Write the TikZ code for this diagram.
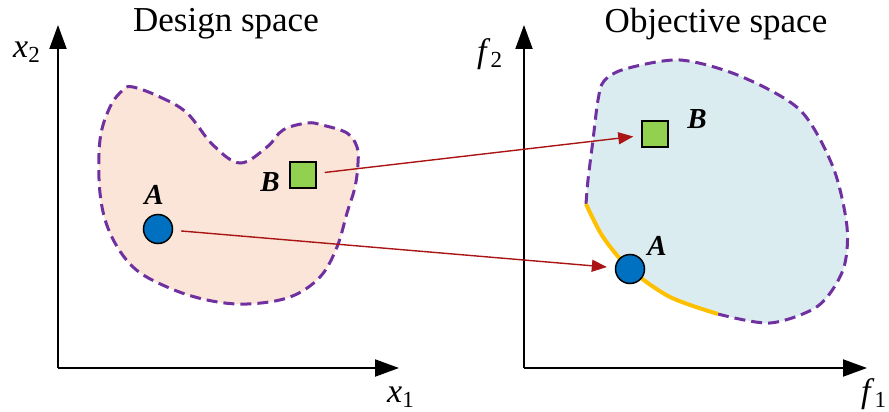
\documentclass[tikz,border=0pt]{standalone}
\usepackage{fontspec}
\setmainfont{Liberation Serif}
\usetikzlibrary{arrows.meta}
\definecolor{designfill}{RGB}{250,229,216}
\definecolor{objfill}{RGB}{218,236,240}
\definecolor{edgepurple}{RGB}{112,48,160}
\definecolor{paretoorange}{RGB}{255,192,0}
\definecolor{ptblue}{RGB}{0,112,192}
\definecolor{ptgreen}{RGB}{146,208,80}
\definecolor{mapred}{RGB}{170,20,20}
\newcommand{\axname}[2]{\textit{#1}\raisebox{-5pt}{\fontsize{23}{26}\selectfont #2}}
\tikzset{
  axisarrow/.style={line width=2pt,-{Triangle[length=24pt,width=17pt]}},
  regionedge/.style={edgepurple,line width=3pt,dash pattern=on 11pt off 6pt},
  ptA/.style={circle,draw,line width=1.5pt,fill=ptblue,minimum size=29pt,inner sep=0pt},
  ptB/.style={rectangle,draw,line width=1.5pt,fill=ptgreen,minimum size=26pt,inner sep=0pt},
  mapping/.style={mapred,line width=1.4pt,-{Triangle[length=15pt,width=12pt]},shorten <=8pt,shorten >=8pt},
  ptlabel/.style={anchor=base,inner sep=0pt,font=\fontsize{29}{33}\selectfont\bfseries\itshape},
  spacetitle/.style={anchor=base,inner sep=0pt,font=\fontsize{35}{40}\selectfont},
  axlabel/.style={anchor=base west,inner sep=0pt,font=\fontsize{34}{38}\selectfont},
}
\begin{document}
\begin{tikzpicture}[x=1pt,y=-1pt]
\useasboundingbox (0,0) rectangle (889,412);
% axes
\coordinate (dO) at (58,368); \coordinate (dX) at (399,368); \coordinate (dY) at (58,25);
\coordinate (oO) at (524,368); \coordinate (oX) at (867,368); \coordinate (oY) at (524,25);
\draw[axisarrow] (dO)--(dX); \draw[axisarrow] (dO)--(dY);
\draw[axisarrow] (oO)--(oX); \draw[axisarrow] (oO)--(oY);
\node[spacetitle] (dtitle) at (226,32) {Design space};
\node[spacetitle] (otitle) at (716,33) {Objective space};
\node[axlabel] (x1lab) at (387,402) {\axname{x}{1}};
\node[axlabel] (x2lab) at (13,58) {\axname{x}{2}};
\node[axlabel] (f1lab) at (861,402) {\axname{f}{1}};
\node[axlabel] (f2lab) at (477,63) {\axname{f}{2}};
% design space
\draw[regionedge,fill=designfill] plot[smooth cycle,tension=0.6] coordinates {(133,87) (160,97) (187,113) (213,145) (240,163) (267,147) (283,130) (307,123) (322,125) (347,133) (357,147) (358,163) (355,187) (347,213) (337,247) (320,277) (290,297) (247,304) (207,300) (167,287) (133,267) (110,233) (100,193) (100,140) (110,107) (123,90)};
% objective space
\fill[objfill] plot[smooth] coordinates {(586,204) (603,237) (630,269) (670,297) (718,314)}
  -- plot[smooth] coordinates {(718,314) (770,323) (818,306) (843,270) (847,227) (833,167) (800,110) (740,76) (680,60) (625,69) (604,81) (598,100) (593,140) (588,180) (586,204)} -- cycle;
\draw[regionedge] plot[smooth] coordinates {(718,314) (770,323) (818,306) (843,270) (847,227) (833,167) (800,110) (740,76) (680,60) (625,69) (604,81) (598,100) (593,140) (588,180) (586,204)};
\draw[paretoorange,line width=4pt] plot[smooth] coordinates {(586,204) (603,237) (630,269) (670,297) (718,314)};
% points
\node[ptA] (pA) at (158,229) {};
\node[ptB] (pB) at (303,175) {};
\node[ptA] (qA) at (630,269) {};
\node[ptB] (qB) at (655,134) {};
\node[ptlabel] (pAlab) at (154,204) {A};
\node[ptlabel] (pBlab) at (270,191) {B};
\node[ptlabel] (qAlab) at (657,255) {A};
\node[ptlabel] (qBlab) at (697,128) {B};
\draw[mapping] (pA)--(qA);
\draw[mapping] (pB)--(qB);
\end{tikzpicture}
\end{document}
